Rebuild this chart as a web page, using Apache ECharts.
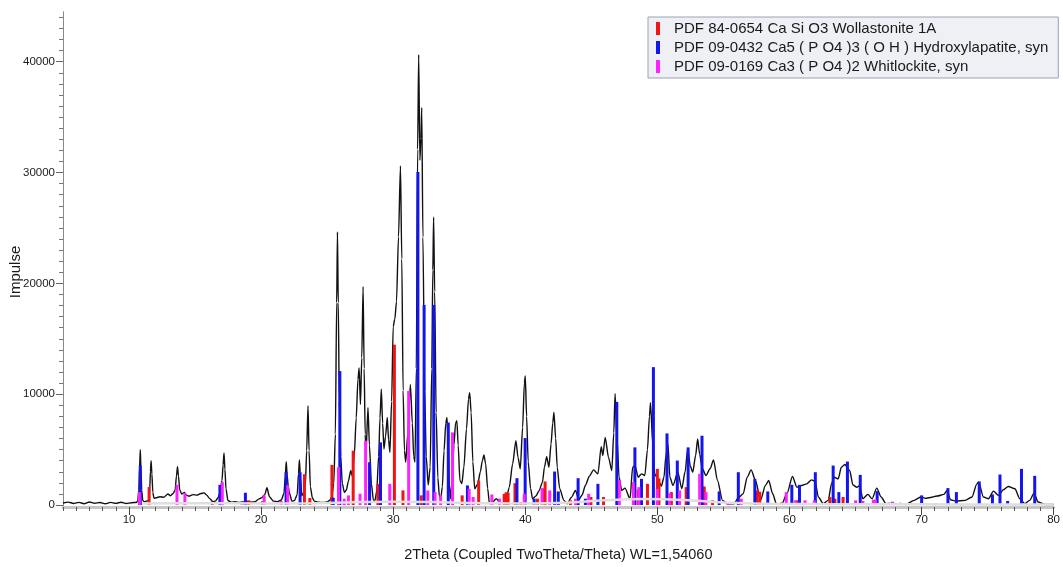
<!DOCTYPE html>
<html><head><meta charset="utf-8">
<script src="https://cdn.jsdelivr.net/npm/echarts@6/dist/echarts.min.js"></script>
<style>html,body{margin:0;padding:0;background:#fff}#c{width:1063px;height:567px}</style>
</head><body><div id="c"></div>
<script>
// ---- tick labels ----
const xTickLabels = [10, 20, 30, 40, 50, 60, 70, 80];
const yTickLabels = [0, 10000, 20000, 30000, 40000];
const yMinorTicks = [];
for (let v = 0; v <= 44000; v += 1000) yMinorTicks.push(v);

// ---- legend / phase names ----
const phaseNames = [
  'PDF 84-0654 Ca Si O3 Wollastonite 1A',
  'PDF 09-0432 Ca5 ( P O4 )3 ( O H ) Hydroxylapatite, syn',
  'PDF 09-0169 Ca3 ( P O4 )2 Whitlockite, syn'
];

// ---- measured pattern [2theta, impulse] ----
const pattern = [
[5.0,180],[5.4,260],[5.8,140],[6.2,240],[6.6,120],[7.0,270],[7.4,160],[7.8,230],[8.2,110],[8.6,240],[9.0,150],[9.4,250],[9.8,140],[10.2,210],[10.55,230],
[10.66,350],[10.74,1340],[10.8,3400],[10.85,5000],[10.9,3400],[10.96,1340],[11.04,400],[11.14,300],
[11.49,400],[11.57,1440],[11.62,3020],[11.67,4000],[11.73,2820],[11.8,1140],[11.89,600],
[12.04,650],[12.34,750],[12.64,700],[12.94,990],[13.14,840],[13.34,1040],
[13.49,1340],[13.59,2620],[13.67,3460],[13.74,2620],[13.84,1340],[13.99,990],[14.19,1140],[14.34,890],[14.54,800],[14.84,940],[15.14,890],[15.44,1040],[15.68,1090],[15.89,890],[16.09,600],[16.34,300],[16.54,350],[16.74,650],
[16.89,1140],[17.04,2230],[17.12,3610],[17.19,4690],[17.26,3220],[17.34,1440],[17.49,400],[17.74,250],[18.04,300],[18.34,230],[18.64,270],[18.94,330],[19.24,250],[19.54,300],[19.84,550],[20.04,650],
[20.28,940],[20.44,1555],[20.63,750],[20.93,350],[21.23,300],[21.53,450],
[21.73,1040],[21.83,2620],[21.9,3910],[21.97,2720],[22.05,1730],[22.13,1140],[22.33,350],[22.53,400],
[22.73,940],[22.83,2820],[22.9,4070],[22.98,2430],[23.08,840],[23.18,1040],
[23.35,1830],[23.45,4900],[23.55,8950],[23.63,4900],[23.73,1640],[23.88,650],[24.03,350],[24.33,250],[24.73,230],[25.03,300],[25.23,450],
[25.35,750],[25.5,1930],[25.62,6380],[25.72,18250],[25.78,24640],[25.84,18250],[25.92,9350],[26.02,4400],[26.15,1930],[26.3,1140],[26.45,1340],[26.6,2130],[26.79,3110],[26.9,2620],
[27.05,4400],[27.2,7860],[27.33,11320],[27.42,12370],[27.52,9080],[27.62,13300],[27.72,19700],[27.8,12310],[27.88,6380],[27.94,4600],[28.09,8790],[28.2,5390],[28.35,1930],[28.5,450],[28.62,400],
[28.75,1240],[28.9,4400],[29.0,7860],[29.1,10440],[29.2,7370],[29.3,5050],[29.42,6180],[29.55,7890],[29.65,5890],[29.75,4750],[29.88,9350],[30.0,16110],[30.12,16760],[30.25,18350],[30.4,24180],[30.55,30600],[30.65,22200],[30.75,10340],[30.85,4900],[30.95,3860],
[31.1,6380],[31.3,10880],[31.45,7370],[31.55,4400],[31.65,3860],[31.75,12310],[31.85,32090],[31.93,40630],[32.02,31100],[32.1,33080],[32.16,35850],[32.25,24180],[32.38,10340],[32.5,4400],[32.65,1790],
[32.8,3410],[32.92,12310],[33.0,21210],[33.06,25980],[33.14,19240],[33.25,8360],[33.38,2430],[33.5,750],[33.6,570],
[33.72,1640],[33.85,4900],[33.98,7370],[34.07,7890],[34.15,5890],[34.25,1930],[34.35,550],[34.45,1930],[34.6,5390],[34.72,7370],[34.82,7600],[34.92,5390],[35.05,2220],[35.2,1930],
[35.35,3410],[35.55,6880],[35.7,9550],[35.79,10130],[35.9,8360],[36.03,3910],[36.17,1465],[36.4,1900],[36.6,3000],[36.75,4000],[36.87,4515],[37.0,3700],[37.15,1500],[37.29,120],
[37.55,300],[37.8,570],[38.05,250],[38.3,150],[38.55,500],[38.79,1615],[39.04,3700],[39.29,5800],[39.45,4300],[39.62,3260],[39.8,7000],[39.93,11000],[40.0,11650],[40.1,8000],[40.22,3900],[40.4,1500],
[40.55,570],[40.8,800],[41.05,1300],[41.3,2060],[41.45,3400],[41.62,4360],[41.79,3410],[41.95,5500],[42.08,7400],[42.17,8340],[42.3,6000],[42.42,3410],[42.6,1500],[42.92,420],[43.17,120],
[43.5,700],[43.8,1315],[44.05,480],[44.3,900],[44.55,1765],[44.85,2600],[45.17,3170],[45.5,2810],[45.75,5260],[45.87,4460],[46.05,6100],[46.3,4300],[46.55,3110],[46.7,6500],[46.8,10040],[46.95,6000],[47.1,2500],[47.3,1315],
[47.55,1525],[47.93,570],[48.13,3410],[48.3,3560],[48.55,2510],[48.8,2810],[49.05,2660],[49.25,5000],[49.4,8000],[49.48,9240],[49.65,5500],[49.8,2800],[50.05,2300],[50.3,1700],
[50.5,2500],[50.65,4500],[50.8,5500],[50.95,2500],[51.18,1765],[51.55,2960],[51.85,1465],[52.1,3000],[52.3,5050],[52.5,3500],[52.68,2960],[52.9,4500],[53.05,5950],[53.2,4600],[53.4,3300],[53.68,2660],[54.0,3300],[54.25,4060],[54.55,2210],[54.93,420],[55.3,120],[55.8,120],
[56.18,720],[56.5,1015],[56.8,2510],[57.1,3170],[57.43,2210],[57.81,420],[58.18,1765],[58.43,2210],[58.73,1015],[59.01,120],[59.43,120],[59.81,1015],[60.23,2570],[60.56,1614],[60.93,1765],[61.31,1910],[61.68,2270],[61.94,2150],[62.19,720],[62.56,120],
[62.94,420],[63.18,1910],[63.39,2510],[63.69,2360],[63.93,3410],[64.19,3650],[64.56,3110],[64.81,1800],[65.1,1600],[65.3,1750],[65.56,570],[65.94,955],[66.26,570],[66.61,1525],[66.94,720],[67.31,120],[67.7,150],[68.0,80],[68.4,130],[68.81,50],
[69.44,420],[69.94,720],[70.3,600],[70.57,660],[71.19,810],[71.69,955],[71.94,1315],[72.19,480],[72.57,360],[73.31,420],[73.82,720],[74.19,1910],[74.32,2060],[74.69,720],[75.07,570],[75.45,1255],[75.82,870],[76.2,1375],[76.57,1675],[77.07,1465],[77.44,570],[77.82,120],[78.19,420],[78.52,1075],[78.82,270],[79.32,50],[80.0,50]
];

// ---- fitted background [2theta, impulse] ----
const background = [
[11,140],[15,160],[20,140],[24,160],[27,250],[30,300],[33,270],[36,170],[40,140],[43,200],[46,420],[49,540],[52,460],[55,230],[58,110],[62,80],[70,60],[80,50]
];

// ---- reference sticks [2theta, impulse] ----
const wollastonite = [
[11.52,1615],[16.3,270],[19.06,420],[20.12,350],[23.28,2780],[23.69,630],[25.36,3615],[26.97,4900],[28.84,1910],[30.09,14470],[30.74,1320],[32.12,870],[35.22,870],[36.47,2215],
[38.4,1000],[38.55,1150],[38.7,1100],[39.22,1970],[39.67,270],[40.92,570],[41.4,1500],[41.5,2125],[43.42,420],[44.97,720],[45.92,720],[48.55,1400],[49.25,1910],[50.0,3260],[50.12,2400],
[51.06,1165],[52.18,1615],[53.55,1675],[54.18,420],[56.31,420],[57.55,1300],[57.75,1200],[59.43,250],[60.56,420],[63.06,720],[63.44,570],[64.06,720]
];
const hydroxylapatite = [
[10.85,3560],[16.88,1820],[18.81,1105],[21.89,2960],[22.95,2960],[25.46,660],[25.96,12080],[28.21,3860],[29.04,5650],[31.87,30045],[32.34,18050],[33.07,18050],[34.17,7440],[35.62,1765],
[39.37,2420],[39.99,6040],[40.67,570],[42.22,3020],[42.5,1225],[44.0,2420],[44.55,570],[45.5,1910],[46.93,9300],[48.3,5200],[48.8,2360],[49.7,12440],
[50.73,6460],[51.51,4010],[52.33,5200],[53.38,6250],[54.68,1225],[56.13,2960],[57.38,2360],[58.36,1225],[60.18,1820],[60.76,1820],[61.96,2960],[63.31,3560],[63.74,1165],[64.39,3920],
[65.36,2720],[66.64,1255],[70.01,870],[72.0,1525],[72.64,1165],[74.37,2125],[75.37,955],[75.94,2750],[76.52,360],[77.57,3260],[78.57,2630]
];
const whitlockite = [
[10.78,1165],[13.63,1820],[14.23,1075],[17.06,2060],[18.56,270],[20.23,870],[21.51,360],[22.01,1765],[25.86,3410],[26.29,570],[26.61,870],[27.49,1015],[27.91,5800],[29.74,1910],
[31.17,10290],[32.62,1315],[33.17,1165],[33.59,870],[34.49,6550],[35.75,1465],[36.05,720],[37.47,955],[38.04,570],[39.92,1015],[41.27,1525],[41.85,1315],[43.8,570],[44.8,1015],
[47.12,2270],[48.18,2060],[48.6,1615],[50.0,1465],[50.93,1075],[51.68,1315],[53.2,2810],[53.68,1165],[55.36,270],[56.35,570],[59.76,1165],[60.44,420],[61.18,420],[61.88,420],
[65.01,420],[65.56,360],[66.36,480],[66.51,480],[67.81,300]
];

const phaseColors = ['#f01414', '#1414ee', '#ff22ff'];
const FONT = 'Liberation Sans, Arial, sans-serif';

function stick(params, api) {
  const x = api.value(0), y = api.value(1);
  const top = api.coord([x, y]);
  const base = api.coord([x, 0]);
  return {
    type: 'rect',
    shape: { x: top[0] - 1.5, y: top[1], width: 3, height: base[1] - top[1] },
    style: { fill: api.visual('color') }
  };
}

const chart = echarts.init(document.getElementById('c'), null, { renderer: 'canvas' });
chart.setOption({
  animation: false,
  backgroundColor: '#ffffff',
  grid: { left: 63, right: 0.6, top: 11.8, bottom: 57, containLabel: false },
  legend: {
    data: phaseNames, orient: 'vertical', left: 648, top: 17,
    backgroundColor: '#eef0f5', borderColor: '#9aa2b4', borderWidth: 1,
    padding: [4, 10, 4, 8], itemGap: 4, itemWidth: 4, itemHeight: 13, icon: 'rect',
    selectedMode: false,
    textStyle: { fontFamily: FONT, fontSize: 15, color: '#1a1a1a', padding: [0, 0, 0, 9] }
  },
  xAxis: [
    { type: 'value', min: 5, max: 80, interval: 1, position: 'bottom',
      axisLine: { show: true, onZero: false, lineStyle: { color: '#c6c6c6', width: 3 } },
      axisTick: { show: true, length: 4, lineStyle: { color: '#555' } },
      axisLabel: { show: false }, splitLine: { show: false } },
    { type: 'value', min: 5, max: 80, position: 'bottom',
      axisLine: { show: false, onZero: false },
      axisTick: { show: true, customValues: xTickLabels, length: 8, lineStyle: { color: '#444' } },
      axisLabel: { customValues: xTickLabels, fontFamily: FONT, fontSize: 11.5, color: '#1a1a1a', margin: 7,
                   formatter: v => String(v) },
      splitLine: { show: false },
      name: '2Theta (Coupled TwoTheta/Theta) WL=1,54060', nameLocation: 'middle', nameGap: 40,
      nameTextStyle: { fontFamily: FONT, fontSize: 14.5, color: '#1a1a1a' } }
  ],
  yAxis: [
    { type: 'value', min: -180, max: 44500, position: 'left',
      axisLine: { show: true, onZero: false, lineStyle: { color: '#8a8a8a', width: 1 } },
      axisTick: { show: true, customValues: yMinorTicks, length: 4, lineStyle: { color: '#777' } },
      axisLabel: { show: false }, splitLine: { show: false } },
    { type: 'value', min: -180, max: 44500, position: 'left',
      axisLine: { show: false, onZero: false },
      axisTick: { show: true, customValues: yTickLabels, length: 7, lineStyle: { color: '#666' } },
      axisLabel: { customValues: yTickLabels, fontFamily: FONT, fontSize: 11.5, color: '#1a1a1a', margin: 8,
                   formatter: v => String(v) },
      splitLine: { show: false } }
  ],
  graphic: [{
    type: 'text', x: 16, y: 272, rotation: Math.PI / 2,
    style: { text: 'Impulse', font: '15px Liberation Sans, Arial, sans-serif', fill: '#1a1a1a', align: 'center', verticalAlign: 'middle' }
  }],
  series: [
    { name: 'pattern', type: 'line', xAxisIndex: 0, yAxisIndex: 0, data: pattern,
      showSymbol: false, smooth: 0.25, smoothMonotone: 'x', z: 2,
      lineStyle: { color: '#111', width: 1.4 }, itemStyle: { color: '#111' } },
    { name: phaseNames[0], type: 'custom', xAxisIndex: 0, yAxisIndex: 0, renderItem: stick,
      encode: { x: 0, y: 1 }, data: wollastonite, itemStyle: { color: phaseColors[0] }, z: 3 },
    { name: phaseNames[1], type: 'custom', xAxisIndex: 0, yAxisIndex: 0, renderItem: stick,
      encode: { x: 0, y: 1 }, data: hydroxylapatite, itemStyle: { color: phaseColors[1] }, z: 4 },
    { name: phaseNames[2], type: 'custom', xAxisIndex: 0, yAxisIndex: 0, renderItem: stick,
      encode: { x: 0, y: 1 }, data: whitlockite, itemStyle: { color: phaseColors[2] }, z: 5 },
    { name: 'background', type: 'line', xAxisIndex: 0, yAxisIndex: 0, data: background,
      showSymbol: false, smooth: 0.4, z: 6, silent: true,
      lineStyle: { color: '#dedede', width: 2.5 }, itemStyle: { color: '#dedede' } }
  ]
});
</script>
</body></html>
